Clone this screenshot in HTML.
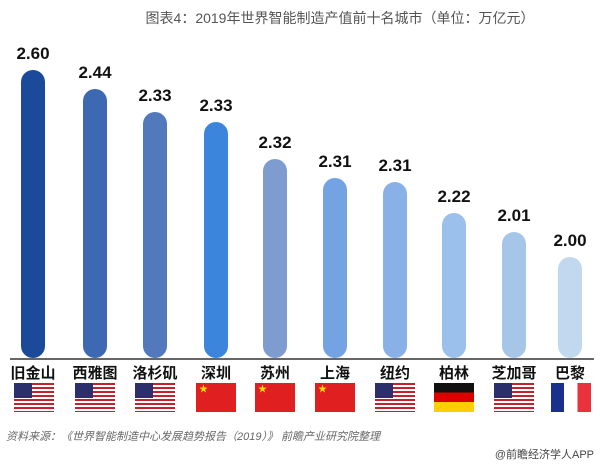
<!DOCTYPE html>
<html><head><meta charset="utf-8"><style>
body{margin:0;width:600px;height:464px;background:#fff;position:relative;overflow:hidden;font-family:"Liberation Sans","Noto Sans CJK SC",sans-serif}
.t{position:absolute;top:8px;left:0;width:600px;text-align:center;font-size:14px;color:#555;padding-left:80px;box-sizing:border-box}
.b{position:absolute;width:24px;border-radius:12px}
.v{position:absolute;width:60px;text-align:center;font-weight:bold;font-size:17px;color:#111}
.c{position:absolute;top:366px;width:60px;text-align:center;font-weight:bold;font-size:15px;line-height:15px;color:#111}
.f{position:absolute;top:383px;width:40px;height:29px}
.us{background:repeating-linear-gradient(#c8202a 0 2px,#fff 2px 4px)}
.us:before{content:"";position:absolute;left:0;top:0;width:18px;height:15px;background:#2b2f6b}
.cn{background:#e02020;color:#ffde00;font-size:9px;line-height:12px;padding-left:3px;box-sizing:border-box}
.de{background:linear-gradient(#111 0 33%,#dd0000 33% 66%,#ffce00 66%)}
.fr{background:linear-gradient(90deg,#1a2f8e 0 33%,#fff 33% 66%,#e8323c 66%)}
</style></head><body>
<div class="t">图表4：2019年世界智能制造产值前十名城市（单位：万亿元）</div>
<div style="position:absolute;left:10px;top:358px;width:584px;height:2px;background:#666"></div>
<div class="b" style="left:21px;top:70px;height:288px;background:#1c4a9a"></div>
<div class="b" style="left:83px;top:89px;height:269px;background:#3c69b2"></div>
<div class="b" style="left:143px;top:112px;height:246px;background:#5279bb"></div>
<div class="b" style="left:204px;top:122px;height:236px;background:#3b85dd"></div>
<div class="b" style="left:263px;top:159px;height:199px;background:#7e9ccf"></div>
<div class="b" style="left:323px;top:178px;height:180px;background:#74a3e4"></div>
<div class="b" style="left:383px;top:182px;height:176px;background:#89b1e8"></div>
<div class="b" style="left:442px;top:213px;height:145px;background:#9cc0ec"></div>
<div class="b" style="left:502px;top:232px;height:126px;background:#a6c6e8"></div>
<div class="b" style="left:558px;top:257px;height:101px;background:#c2d8ef"></div>
<div class="v" style="left:3px;top:44px">2.60</div>
<div class="v" style="left:65px;top:63px">2.44</div>
<div class="v" style="left:125px;top:86px">2.33</div>
<div class="v" style="left:186px;top:96px">2.33</div>
<div class="v" style="left:245px;top:133px">2.32</div>
<div class="v" style="left:305px;top:152px">2.31</div>
<div class="v" style="left:365px;top:156px">2.31</div>
<div class="v" style="left:424px;top:187px">2.22</div>
<div class="v" style="left:484px;top:206px">2.01</div>
<div class="v" style="left:540px;top:231px">2.00</div>
<div class="c" style="left:3px">旧金山</div>
<div class="c" style="left:65px">西雅图</div>
<div class="c" style="left:125px">洛杉矶</div>
<div class="c" style="left:186px">深圳</div>
<div class="c" style="left:245px">苏州</div>
<div class="c" style="left:305px">上海</div>
<div class="c" style="left:365px">纽约</div>
<div class="c" style="left:424px">柏林</div>
<div class="c" style="left:484px">芝加哥</div>
<div class="c" style="left:540px">巴黎</div>
<div class="f us" style="left:14px"></div>
<div class="f us" style="left:75px"></div>
<div class="f us" style="left:135px"></div>
<div class="f cn" style="left:196px">★</div>
<div class="f cn" style="left:255px">★</div>
<div class="f cn" style="left:315px">★</div>
<div class="f us" style="left:375px"></div>
<div class="f de" style="left:434px"></div>
<div class="f us" style="left:494px"></div>
<div class="f fr" style="left:551px"></div>
<div style="position:absolute;left:6px;top:428px;font-size:11px;font-style:italic;color:#666">资料来源：《世界智能制造中心发展趋势报告（2019）》 前瞻产业研究院整理</div>
<div style="position:absolute;right:6px;top:446px;font-size:11px;color:#444">@前瞻经济学人APP</div>
</body></html>
